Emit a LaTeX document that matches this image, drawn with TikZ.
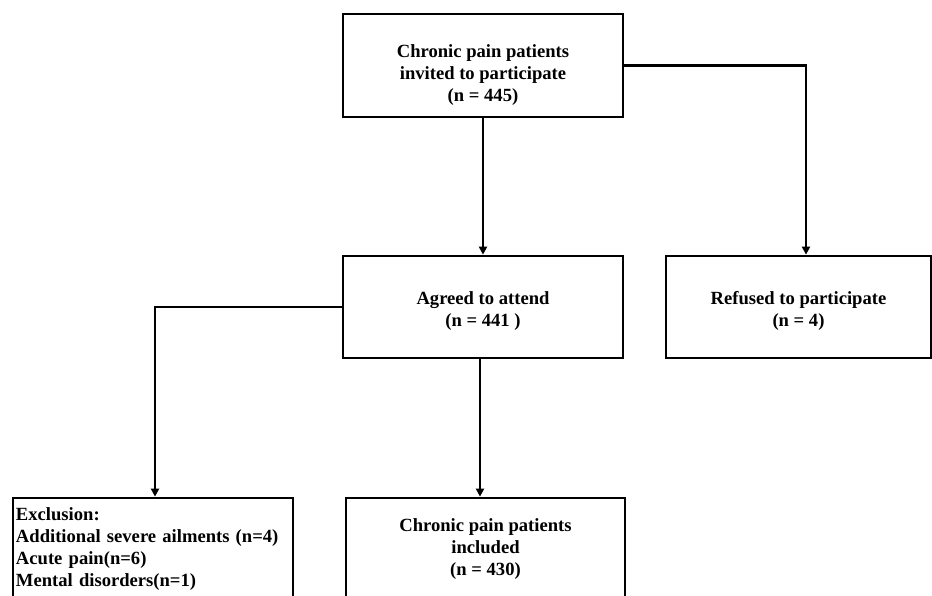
\documentclass[tikz,border=0pt]{standalone}
\usepackage{fontspec}
\setmainfont{Liberation Serif}
\usepackage{tikz}
\usetikzlibrary{arrows.meta, positioning}

\begin{document}
\begin{tikzpicture}[x=1pt, y=-1pt,
        box/.style={draw, line width=2.7pt, align=center, inner sep=3pt,
            minimum width=280pt, minimum height=103pt,
            font=\fontsize{18.6}{22}\selectfont\bfseries},
        link/.style={line width=2.1pt, -{Triangle[length=8pt, width=8pt]}}]
        % Page frame
        \useasboundingbox (0,0) rectangle (932,596);
        \clip (0,0) rectangle (932,596);

        % Boxes
        \node[box] (invited) at (483,65.5) {\rule{0pt}{31pt}Chronic pain patients\\invited to participate\\(n = 445)};
        \node[box, minimum height=102pt] (agreed) at (483,307) {\rule{0pt}{21pt}Agreed to attend\\(n = 441 )};
        \node[box, minimum width=265pt, minimum height=102pt] (refused) at (798.5,307) {\rule{0pt}{21pt}Refused to participate\\(n = 4)};
        \node[box, align=left, text width=274pt] (exclusion) at (153,549.5) {Exclusion:\\Additional severe ailments (n=4)\\Acute pain(n=6)\\Mental disorders(n=1)};
        \node[box, minimum width=279pt] (included) at (485.5,549.5) {Chronic pain patients\\included\\(n = 430)};

        % Connectors
        \draw[link] (invited) -- (agreed);
        \draw[link] (invited.east) -| ([xshift=7.5pt]refused.north);
        \draw[link] (agreed.west) -| ([xshift=2pt]exclusion.north);
        \draw[link] ([xshift=-3pt]agreed.south) -- ([xshift=-3pt]agreed.south |- included.north);
    \end{tikzpicture}
\end{document}
